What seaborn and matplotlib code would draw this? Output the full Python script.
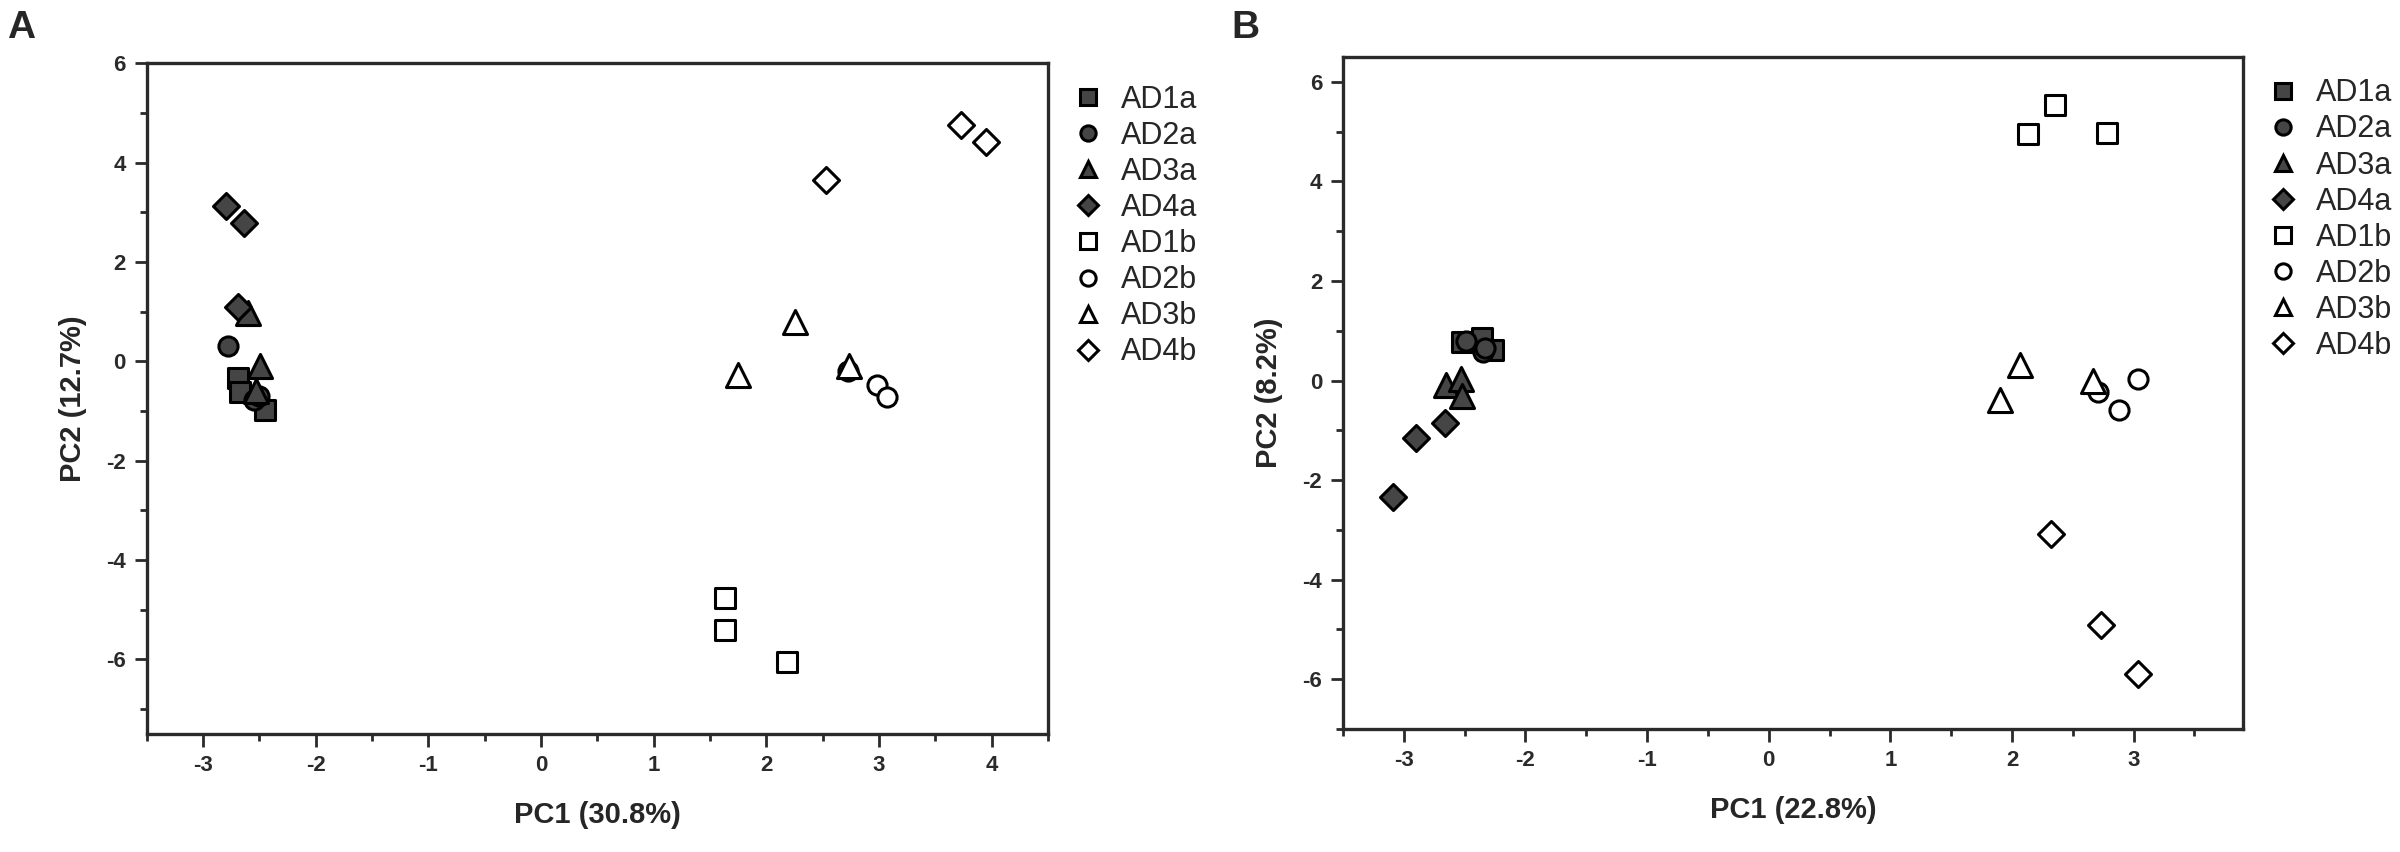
import matplotlib
matplotlib.use("Agg")
import matplotlib.pyplot as plt
from matplotlib.lines import Line2D
from matplotlib.ticker import MultipleLocator
import seaborn as sns

# sample groups (3 replicates each)
groups = ["AD1a", "AD2a", "AD3a", "AD4a", "AD1b", "AD2b", "AD3b", "AD4b"]
samples = [g for g in groups for _ in range(3)]

# Panel A scores
pc1_a = [-2.69, -2.67, -2.45,
         -2.78, -2.55, -2.50,
         -2.60, -2.49, -2.53,
         -2.80, -2.64, -2.69,
         1.63, 1.63, 2.18,
         2.72, 2.98, 3.07,
         2.25, 1.75, 2.73,
         3.73, 3.95, 2.53]
pc2_a = [-0.33, -0.62, -0.97,
         0.30, -0.78, -0.70,
         0.98, -0.10, -0.60,
         3.13, 2.78, 1.09,
         -4.77, -5.41, -6.06,
         -0.20, -0.48, -0.72,
         0.80, -0.27, -0.10,
         4.76, 4.41, 3.65]

# Panel B scores
pc1_b = [-2.52, -2.36, -2.27,
         -2.49, -2.35, -2.33,
         -2.65, -2.53, -2.52,
         -3.09, -2.90, -2.66,
         2.35, 2.13, 2.78,
         3.04, 2.71, 2.88,
         2.07, 1.90, 2.67,
         2.32, 2.73, 3.04]
pc2_b = [0.78, 0.85, 0.62,
         0.80, 0.57, 0.65,
         -0.08, 0.04, -0.31,
         -2.33, -1.15, -0.85,
         5.53, 4.96, 4.98,
         0.04, -0.24, -0.59,
         0.31, -0.40, 0.00,
         -3.09, -4.91, -5.89]

dark = "#454545"
marker_map = {"AD1a": "s", "AD2a": "o", "AD3a": "^", "AD4a": "D",
              "AD1b": "s", "AD2b": "o", "AD3b": "^", "AD4b": "D"}
face_map = {g: (dark if g.endswith("a") else "white") for g in groups}
size_map = {"s": 200, "o": 190, "^": 300, "D": 175}

sns.set_style("ticks")
plt.rcParams["font.family"] = ["Liberation Sans", "DejaVu Sans"]
plt.rcParams["axes.unicode_minus"] = False
plt.rcParams["axes.linewidth"] = 2.4
plt.rcParams["axes.edgecolor"] = "#2a2a2a"

fig = plt.figure(figsize=(24, 8.52), dpi=100)
ax_a = fig.add_axes([0.0611, 0.1385, 0.3756, 0.7872])
ax_b = fig.add_axes([0.5596, 0.1444, 0.3750, 0.7887])


def draw_panel(ax, xs, ys, xlim, ylim, xlabel, ylabel):
    for g in groups:
        idx = [i for i, s in enumerate(samples) if s == g]
        m = marker_map[g]
        sns.scatterplot(x=[xs[i] for i in idx], y=[ys[i] for i in idx], ax=ax,
                        marker=m, s=size_map[m], color=face_map[g],
                        edgecolor="black", linewidth=2.2, legend=False,
                        zorder=3)
    ax.set_xlim(*xlim)
    ax.set_ylim(*ylim)
    ax.xaxis.set_major_locator(MultipleLocator(1))
    ax.xaxis.set_minor_locator(MultipleLocator(0.5))
    ax.yaxis.set_major_locator(MultipleLocator(2))
    ax.yaxis.set_minor_locator(MultipleLocator(1))
    ax.tick_params(which="major", direction="out", length=9, width=2,
                   labelsize=16, colors="#2a2a2a", pad=6)
    ax.tick_params(which="minor", direction="out", length=5, width=2,
                   colors="#2a2a2a")
    for lab in ax.get_xticklabels() + ax.get_yticklabels():
        lab.set_fontweight("bold")
    ax.set_xlabel(xlabel, fontsize=21, fontweight="bold", labelpad=18)
    ax.set_ylabel(ylabel, fontsize=21, fontweight="bold", labelpad=14)

    handles = [Line2D([], [], linestyle="none", marker=marker_map[g],
                      markersize=11 if marker_map[g] != "D" else 10,
                      markerfacecolor=face_map[g], markeredgecolor="black",
                      markeredgewidth=2.2, label=g) for g in groups]
    ax.legend(handles=handles, loc="upper left", bbox_to_anchor=(1.0, 1.0),
              frameon=False, fontsize=22, labelspacing=0.2,
              handletextpad=0.5, handlelength=1.2, borderaxespad=0.3)


draw_panel(ax_a, pc1_a, pc2_a, (-3.5, 4.5), (-7.5, 6),
           "PC1 (30.8%)", "PC2 (12.7%)")
draw_panel(ax_b, pc1_b, pc2_b, (-3.5, 3.9), (-7, 6.5),
           "PC1 (22.8%)", "PC2 (8.2%)")

fig.text(0.003, 0.955, "A", fontsize=28, fontweight="bold")
fig.text(0.513, 0.955, "B", fontsize=28, fontweight="bold")

fig.savefig("out.png", dpi=100, facecolor="white")
